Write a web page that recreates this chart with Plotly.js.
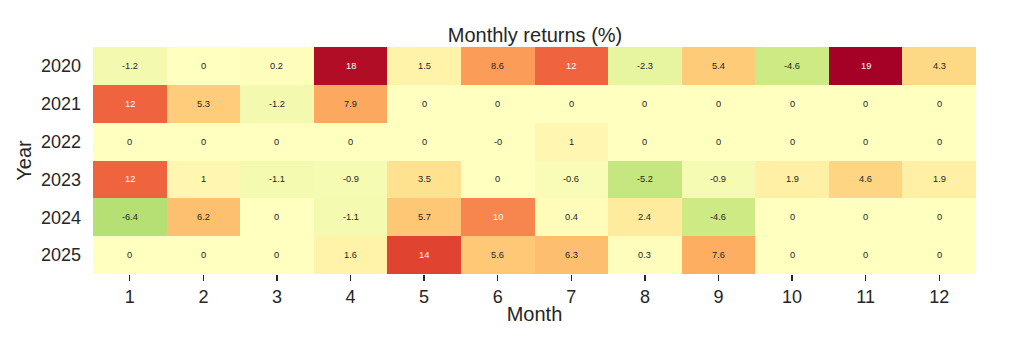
<!DOCTYPE html>
<html>
<head>
<meta charset="utf-8">
<script src="https://cdn.plot.ly/plotly-3.0.1.min.js"></script>
<style>html,body{margin:0;padding:0;background:#fff;}#chart{width:1024px;height:352px;}</style>
</head>
<body>
<div id="chart"></div>
<script>
const months = [1,2,3,4,5,6,7,8,9,10,11,12];
const years = [2020,2021,2022,2023,2024,2025];
const r2020 = [-1.2, 0, 0.2, 18, 1.5, 8.6, 12, -2.3, 5.4, -4.6, 19, 4.3];
const r2021 = [12, 5.3, -1.2, 7.9, 0, 0, 0, 0, 0, 0, 0, 0];
const r2022 = [0, 0, 0, 0, 0, -0, 1, 0, 0, 0, 0, 0];
const r2023 = [12, 1, -1.1, -0.9, 3.5, 0, -0.6, -5.2, -0.9, 1.9, 4.6, 1.9];
const r2024 = [-6.4, 6.2, 0, -1.1, 5.7, 10, 0.4, 2.4, -4.6, 0, 0, 0];
const r2025 = [0, 0, 0, 1.6, 14, 5.6, 6.3, 0.3, 7.6, 0, 0, 0];
const z = [r2020, r2021, r2022, r2023, r2024, r2025];

const rdylgn = ['#a50026','#d73027','#f46d43','#fdae61','#fee08b','#ffffbf','#d9ef8b','#a6d96a','#66bd63','#1a9850','#006837'];
const cmap = rdylgn.slice().reverse();
const colorscale = cmap.map((c,i)=>[i/(cmap.length-1), c]);

let vmax = 0;
z.forEach(r=>r.forEach(v=>{vmax=Math.max(vmax,Math.abs(v));}));

function hex2rgb(h){return [1,3,5].map(i=>parseInt(h.substr(i,2),16)/255);}
function colorAt(v){
  let t=(v+vmax)/(2*vmax); t=Math.max(0,Math.min(1,t));
  const p=t*(cmap.length-1); const i=Math.min(Math.floor(p),cmap.length-2); const f=p-i;
  const a=hex2rgb(cmap[i]), b=hex2rgb(cmap[i+1]);
  return a.map((x,k)=>x+(b[k]-x)*f);
}
function lum(rgb){
  const c=rgb.map(x=>x<=0.03928?x/12.92:Math.pow((x+0.055)/1.055,2.4));
  return 0.2126*c[0]+0.7152*c[1]+0.0722*c[2];
}
function fmt(v){ if(Object.is(v,-0)) return '-0'; return String(v); }

const FONT='Liberation Sans, Arial, sans-serif';
const annotations=[];
z.forEach((row,yi)=>row.forEach((v,xi)=>{
  annotations.push({x:months[xi], y:years[yi], xref:'x', yref:'y', text:fmt(v), showarrow:false,
    font:{family:FONT, size:9.3, color: lum(colorAt(v))<0.408?'#ffffff':'#262626'}});
}));

const trace={type:'heatmap', x:months, y:years, z:z, colorscale:colorscale, zmin:-vmax, zmax:vmax,
  showscale:false, hoverinfo:'skip'};

const layout={
  width:1024, height:352,
  margin:{l:93, r:48, t:47, b:78},
  paper_bgcolor:'#ffffff', plot_bgcolor:'#ffffff',
  font:{family:FONT, color:'#262626'},
  title:{text:'Monthly returns (%)', x:0.5225, xanchor:'center', yref:'paper', y:1, yanchor:'bottom', pad:{b:5}, font:{size:20, color:'#262626'}},
  xaxis:{title:{text:'Month', font:{size:20}, standoff:1}, tickmode:'array', tickvals:months, ticktext:months.map(String),
    range:[0.5,12.5], ticks:'outside', ticklen:6, tickwidth:1.25, tickcolor:'#262626', tickfont:{size:18}, showgrid:false, zeroline:false, showline:false},
  yaxis:{title:{text:'Year', font:{size:20}, standoff:3}, range:[2025.5,2019.5], tickmode:'array', tickvals:years, ticktext:years.map(String),
    ticks:'', tickfont:{size:18}, showgrid:false, zeroline:false, showline:false, ticklabelstandoff:11},
  annotations:annotations
};
Plotly.newPlot('chart',[trace],layout,{staticPlot:true, displayModeBar:false});
</script>
</body>
</html>
